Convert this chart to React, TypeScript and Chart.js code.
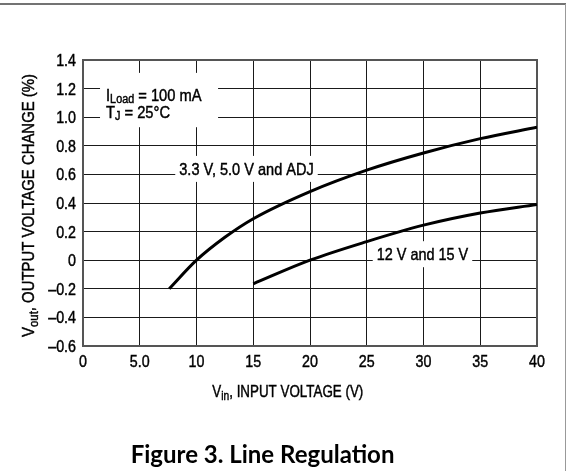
import React, { useEffect, useRef } from 'react';
import { Chart, registerables } from 'chart.js';

Chart.register(...registerables);

// ---- data ----
const X_TICKS = [0, 5, 10, 15, 20, 25, 30, 35, 40];
const X_TICK_LABELS = ['0', '5.0', '10', '15', '20', '25', '30', '35', '40'];
const Y_TICKS = [-0.6, -0.4, -0.2, 0, 0.2, 0.4, 0.6, 0.8, 1.0, 1.2, 1.4];
const Y_TICK_LABELS = ['–0.6', '–0.4', '–0.2', '0', '0.2', '0.4', '0.6', '0.8', '1.0', '1.2', '1.4'];

const LOW_V_X = [7.6, 10, 12.5, 15, 20, 25, 30, 35, 40];
const LOW_V_Y = [-0.2, 0.0, 0.16, 0.29, 0.48, 0.63, 0.75, 0.85, 0.93];
const HIGH_V_X = [15, 20, 25, 30, 35, 40];
const HIGH_V_Y = [-0.165, 0.0, 0.13, 0.245, 0.33, 0.39];

const LOW_V_LABEL = '3.3 V, 5.0 V and ADJ';
const HIGH_V_LABEL = '12 V and 15 V';
const FIGURE_TITLE = 'Figure 3. Line Regulation';

type Part = { t: string; sub?: boolean };
const NOTE_LINE_1: Part[] = [{ t: 'I' }, { t: 'Load', sub: true }, { t: ' = 100 mA' }];
const NOTE_LINE_2: Part[] = [{ t: 'T' }, { t: 'J', sub: true }, { t: ' = 25°C' }];
const X_TITLE: Part[] = [{ t: 'V' }, { t: 'in', sub: true }, { t: ', INPUT VOLTAGE (V)' }];
const Y_TITLE: Part[] = [{ t: 'V' }, { t: 'out', sub: true }, { t: ', OUTPUT VOLTAGE CHANGE (%)' }];

const FONT = "'Liberation Sans', Arial, sans-serif";
const TEXT_COLOR = '#000';
const SIZE = 17;
const SQUEEZE = 0.84; // condensed look of the original typeface

function natW(ctx: CanvasRenderingContext2D, text: string, size: number) {
  ctx.font = `${size}px ${FONT}`;
  return ctx.measureText(text).width;
}

function drawCond(ctx: CanvasRenderingContext2D, text: string, x: number, y: number, size: number, align: CanvasTextAlign = 'left', sq = SQUEEZE) {
  ctx.save();
  ctx.font = `${size}px ${FONT}`;
  ctx.textAlign = align;
  ctx.textBaseline = 'alphabetic';
  ctx.fillStyle = TEXT_COLOR;
  ctx.strokeStyle = TEXT_COLOR;
  ctx.lineWidth = 0.45;
  ctx.translate(x, y);
  ctx.scale(sq, 1);
  ctx.fillText(text, 0, 0);
  ctx.strokeText(text, 0, 0);
  ctx.restore();
}

// draws text with subscripts, squeezed so the whole run spans `width` pixels
function drawRichFit(ctx: CanvasRenderingContext2D, parts: Part[], x: number, y: number, width: number, size: number, subSize: number, subShift: number) {
  const nat = parts.reduce((a, p) => a + natW(ctx, p.t, p.sub ? subSize : size), 0);
  const sq = width / nat;
  let cx = x;
  for (const p of parts) {
    const s = p.sub ? subSize : size;
    drawCond(ctx, p.t, cx, y + (p.sub ? subShift : 0), s, 'left', sq);
    cx += natW(ctx, p.t, s) * sq;
  }
}

function labelWithBox(ctx: CanvasRenderingContext2D, text: string, x: number, y: number, width: number) {
  ctx.fillStyle = '#fff';
  ctx.fillRect(x - 4, y - 19, width + 8, 26);
  drawRichFit(ctx, [{ t: text }], x, y, width, SIZE, SIZE, 0);
}

const annotationPlugin = {
  id: 'lineRegAnnotations',
  beforeDatasetsDraw(chart: any) {
    const ctx: CanvasRenderingContext2D = chart.ctx;
    const xs = chart.scales.x;
    const ys = chart.scales.y;
    const { left, top, right, bottom } = chart.chartArea;
    ctx.save();
    // conditions block
    const bx0 = xs.getPixelForValue(1.5);
    const bx1 = xs.getPixelForValue(11.9);
    const by0 = ys.getPixelForValue(1.31);
    const by1 = ys.getPixelForValue(0.93);
    ctx.fillStyle = '#fff';
    ctx.fillRect(bx0, by0, bx1 - bx0, by1 - by0);
    const nx = xs.getPixelForValue(2.03);
    drawRichFit(ctx, NOTE_LINE_1, nx, ys.getPixelForValue(1.113), 95.5, SIZE, 12.5, 2);
    drawRichFit(ctx, NOTE_LINE_2, nx, ys.getPixelForValue(0.997), 64, SIZE, 12.5, 2);
    // curve labels
    labelWithBox(ctx, LOW_V_LABEL, xs.getPixelForValue(8.48), ys.getPixelForValue(0.6) + 0.5, 134.5);
    labelWithBox(ctx, HIGH_V_LABEL, xs.getPixelForValue(25.88), ys.getPixelForValue(0), 91.5);
    // plot border
    ctx.strokeStyle = '#555';
    ctx.lineWidth = 2;
    ctx.strokeRect(left, top, right - left, bottom - top);
    ctx.restore();
  },
  afterDraw(chart: any) {
    const ctx: CanvasRenderingContext2D = chart.ctx;
    const xs = chart.scales.x;
    const ys = chart.scales.y;
    const { left, bottom } = chart.chartArea;
    ctx.save();
    // tick labels (positions from the chart's scales)
    X_TICKS.forEach((v, i) => {
      drawCond(ctx, X_TICK_LABELS[i], xs.getPixelForValue(v), bottom + 20.5, SIZE, 'center');
    });
    Y_TICKS.forEach((v, i) => {
      drawCond(ctx, Y_TICK_LABELS[i], left - 7, ys.getPixelForValue(v) + 6, SIZE, 'right');
    });
    // x axis title
    drawRichFit(ctx, X_TITLE, 212.3, 396.5, 151, SIZE, 13, 3.5);
    // y axis title
    ctx.translate(33.5, 337);
    ctx.rotate(-Math.PI / 2);
    drawRichFit(ctx, Y_TITLE, 0, 0, 263, SIZE, 13, 4);
    ctx.setTransform(1, 0, 0, 1, 0, 0);
    // figure title
    ctx.font = "bold 24px Lato, 'Open Sans', sans-serif";
    ctx.fillStyle = '#000';
    ctx.textAlign = 'left';
    ctx.textBaseline = 'alphabetic';
    ctx.fillText(FIGURE_TITLE, 130.7, 463.3);
    // frame lines
    ctx.strokeStyle = '#444';
    ctx.lineWidth = 1.5;
    ctx.beginPath();
    ctx.moveTo(0, 4);
    ctx.lineTo(566, 4);
    ctx.stroke();
    ctx.strokeStyle = '#999';
    ctx.lineWidth = 1;
    ctx.beginPath();
    ctx.moveTo(565.5, 4);
    ctx.lineTo(565.5, 471);
    ctx.stroke();
    ctx.restore();
  },
};

export default function App() {
  const canvasRef = useRef<HTMLCanvasElement | null>(null);

  useEffect(() => {
    const canvas = canvasRef.current;
    if (!canvas) return;
    const toPoints = (xs: number[], ys: number[]) => xs.map((x, i) => ({ x, y: ys[i] }));
    const chart = new Chart(canvas, {
      type: 'scatter',
      data: {
        datasets: [
          {
            label: LOW_V_LABEL,
            data: toPoints(LOW_V_X, LOW_V_Y),
            showLine: true,
            borderColor: '#000',
            borderWidth: 3,
            pointRadius: 0,
            cubicInterpolationMode: 'monotone',
          },
          {
            label: HIGH_V_LABEL,
            data: toPoints(HIGH_V_X, HIGH_V_Y),
            showLine: true,
            borderColor: '#000',
            borderWidth: 3,
            pointRadius: 0,
            cubicInterpolationMode: 'monotone',
          },
        ],
      },
      options: {
        responsive: false,
        animation: false,
        devicePixelRatio: 1,
        layout: { padding: { left: 0, right: 29, top: 60, bottom: 0 } },
        plugins: {
          legend: { display: false },
          tooltip: { enabled: false },
          title: { display: false },
        },
        scales: {
          x: {
            type: 'linear',
            min: 0,
            max: 40,
            afterBuildTicks: (s: any) => {
              s.ticks = X_TICKS.map((value) => ({ value }));
            },
            ticks: {
              display: false,
              autoSkip: false,
              callback: (v: any) => {
                const i = X_TICKS.findIndex((t) => Math.abs(t - Number(v)) < 1e-6);
                return i >= 0 ? X_TICK_LABELS[i] : '';
              },
            },
            grid: { color: '#1a1a1a', lineWidth: 1, drawTicks: false },
            border: { display: false },
            afterFit: (s: any) => {
              s.height = 125;
            },
          },
          y: {
            type: 'linear',
            min: -0.6,
            max: 1.4,
            afterBuildTicks: (s: any) => {
              s.ticks = Y_TICKS.map((value) => ({ value }));
            },
            ticks: {
              display: false,
              autoSkip: false,
              callback: (v: any) => {
                const i = Y_TICKS.findIndex((t) => Math.abs(t - Number(v)) < 1e-6);
                return i >= 0 ? Y_TICK_LABELS[i] : '';
              },
            },
            grid: { color: '#1a1a1a', lineWidth: 1, drawTicks: false },
            border: { display: false },
            afterFit: (s: any) => {
              s.width = 83;
            },
          },
        },
      },
      plugins: [annotationPlugin],
    } as any);
    return () => chart.destroy();
  }, []);

  return (
    <div style={{ position: 'absolute', left: 0, top: 0, width: 566, height: 471, background: '#fff' }}>
      <canvas ref={canvasRef} width={566} height={471} style={{ display: 'block' }} />
    </div>
  );
}
